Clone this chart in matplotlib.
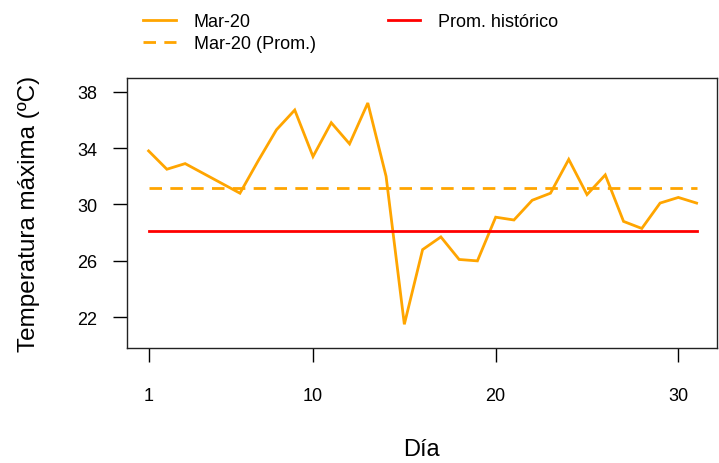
import numpy as np
import matplotlib
matplotlib.use("Agg")
import matplotlib.pyplot as plt

plt.rcParams['font.family'] = ['Liberation Sans', 'DejaVu Sans']

# Temperatura maxima diaria, marzo 2020
dias = np.arange(1, 32)
tmax_mar20 = [33.8, 32.5, 32.9, 32.2, 31.5, 30.8, 33.1, 35.3, 36.7, 33.4,
              35.8, 34.3, 37.2, 32.0, 21.5, 26.8, 27.7, 26.1, 26.0, 29.1,
              28.9, 30.3, 30.8, 33.2, 30.7, 32.1, 28.8, 28.3, 30.1, 30.5,
              30.1]
prom_mar20 = 31.15
prom_historico = 28.1

x_ticks = [1, 10, 20, 30]
y_ticks = [22, 26, 30, 34, 38]

fig = plt.figure(figsize=(7.19, 4.64), dpi=100)
ax = fig.add_axes([0.1762, 0.2472, 0.8206, 0.5825])

l1, = ax.plot(dias, tmax_mar20, color='orange', lw=2, solid_joinstyle='miter')
l2, = ax.plot([dias[0], dias[-1]], [prom_mar20, prom_mar20], color='orange',
              lw=2, dashes=(4.5, 3))
l3, = ax.plot([dias[0], dias[-1]], [prom_historico, prom_historico],
              color='red', lw=2)

ax.set_xlim(-0.2, 32.1)
ax.set_ylim(19.8, 38.97)
ax.set_xticks(x_ticks)
ax.set_yticks(y_ticks)
ax.tick_params(length=10, width=1, labelsize=13, colors='black')
ax.tick_params(axis='x', pad=18)
ax.tick_params(axis='y', pad=11)
for s in ax.spines.values():
    s.set_linewidth(1)
    s.set_color('#222222')

ax.set_xlabel('Día', fontsize=17, labelpad=24)
ax.set_ylabel('Temperatura máxima (ºC)', fontsize=17.5, labelpad=27)

fig.legend([l1, l2, l3], ['Mar-20', 'Mar-20 (Prom.)', 'Prom. histórico'],
           ncol=2, loc='upper left', bbox_to_anchor=(143 / 719, 1 - 14 / 464),
           frameon=False, fontsize=13, handlelength=1.8, handletextpad=1.0,
           columnspacing=4.0, labelspacing=0.3, borderpad=0, borderaxespad=0)

fig.savefig('out.png', dpi=100)
